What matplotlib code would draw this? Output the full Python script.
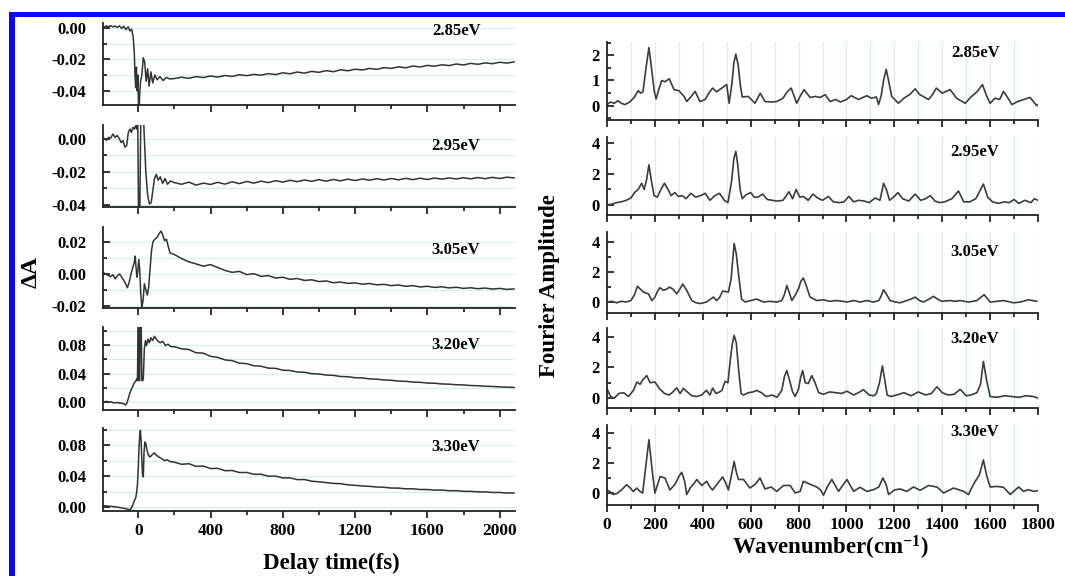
import matplotlib.pyplot as plt
from matplotlib.ticker import MultipleLocator
from matplotlib.patches import Rectangle

plt.rcParams['font.family'] = ['Liberation Serif', 'DejaVu Serif']
plt.rcParams['font.weight'] = 'bold'
plt.rcParams['mathtext.fontset'] = 'custom'
plt.rcParams['mathtext.rm'] = 'Liberation Serif:bold'
plt.rcParams['mathtext.it'] = 'Liberation Serif:bold'
plt.rcParams['mathtext.bf'] = 'Liberation Serif:bold'

energies = ["2.85eV", "2.95eV", "3.05eV", "3.20eV", "3.30eV"]

# ---- transient absorption traces (delay in fs, dA) ----
t_late = [200, 240, 280, 320, 360, 400, 440, 480, 520, 560,
          600, 640, 680, 720, 760, 800, 840, 880, 920, 960,
          1000, 1040, 1080, 1120, 1160, 1200, 1240, 1280, 1320, 1360,
          1400, 1440, 1480, 1520, 1560, 1600, 1640, 1680, 1720, 1760,
          1800, 1840, 1880, 1920, 1960, 2000, 2040, 2080]

t285 = [-200, -188, -176, -164, -152, -140, -128, -116, -104, -92,
        -80, -68, -56, -46, -36, -28, -22, -18, -14, -10,
        -6, -2, 3, 8, 13, 20, 28, 36, 44, 52,
        60, 70, 80, 92, 105, 120, 138, 155, 175]
a285 = [0.0010, 0.0004, 0.0012, 0.0006, 0.0013, 0.0005, 0.0011, 0.0002, 0.0012, -0.0005,
        0.0010, -0.0012, 0.0006, -0.0020, -0.0010, -0.0060, -0.0150, -0.0300, -0.0380, -0.0250,
        -0.0400, -0.0300, -0.0600, -0.0420, -0.0340, -0.0300, -0.0190, -0.0220, -0.0340, -0.0260,
        -0.0370, -0.0280, -0.0350, -0.0300, -0.0330, -0.0310, -0.0335, -0.0315, -0.0325]
a285_late = [-0.0322, -0.0314, -0.0321, -0.0310, -0.0316, -0.0306, -0.0313, -0.0303, -0.0309, -0.0298,
             -0.0304, -0.0296, -0.0301, -0.0291, -0.0297, -0.0286, -0.0292, -0.0281, -0.0288, -0.0277,
             -0.0283, -0.0272, -0.0279, -0.0267, -0.0273, -0.0263, -0.0268, -0.0258, -0.0264, -0.0253,
             -0.0258, -0.0248, -0.0254, -0.0243, -0.0249, -0.0239, -0.0244, -0.0235, -0.0240, -0.0230,
             -0.0236, -0.0226, -0.0232, -0.0223, -0.0228, -0.0219, -0.0224, -0.0217]

t295 = [-200, -188, -176, -164, -152, -140, -128, -116, -104, -94,
        -84, -74, -64, -55, -46, -38, -30, -22, -15, -8,
        -4, 2, 8, 16, 24, 32, 42, 52, 62, 72,
        80, 90, 100, 110, 122, 135, 148, 162, 178]
a295 = [0.0000, 0.0004, -0.0008, 0.0010, 0.0006, 0.0030, 0.0010, 0.0022, 0.0000, -0.0022,
        -0.0010, -0.0050, -0.0040, 0.0040, 0.0060, 0.0040, 0.0070, 0.0060, 0.0080, 0.0060,
        0.0300, -0.0500, -0.0500, 0.0300, 0.0300, 0.0050, -0.0200, -0.0340, -0.0395, -0.0385,
        -0.0320, -0.0240, -0.0215, -0.0250, -0.0230, -0.0270, -0.0240, -0.0275, -0.0255]
a295_late = [-0.0265, -0.0275, -0.0262, -0.0280, -0.0268, -0.0276, -0.0263, -0.0274, -0.0260, -0.0271,
             -0.0258, -0.0268, -0.0256, -0.0265, -0.0253, -0.0262, -0.0251, -0.0259, -0.0249, -0.0257,
             -0.0247, -0.0256, -0.0246, -0.0254, -0.0244, -0.0252, -0.0243, -0.0250, -0.0241, -0.0249,
             -0.0240, -0.0248, -0.0239, -0.0247, -0.0238, -0.0246, -0.0237, -0.0244, -0.0236, -0.0243,
             -0.0235, -0.0242, -0.0234, -0.0241, -0.0233, -0.0240, -0.0232, -0.0236]

t305 = [-200, -188, -176, -164, -152, -140, -128, -116, -104, -92,
        -80, -70, -60, -50, -40, -30, -22, -17, -12, -7,
        -2, 3, 8, 14, 20, 27, 34, 42, 50, 58,
        66, 74, 82, 92, 104, 116, 126, 136, 146,
        156, 166, 176, 188]
a305 = [0.0000, 0.0006, -0.0004, -0.0010, -0.0016, -0.0004, -0.0030, -0.0012, 0.0000, -0.0018,
        -0.0040, -0.0060, -0.0085, -0.0050, 0.0000, 0.0040, 0.0070, 0.0110, 0.0040, -0.0020,
        0.0020, 0.0090, 0.0030, -0.0120, -0.0210, -0.0160, -0.0060, -0.0100, -0.0130, -0.0080,
        0.0040, 0.0150, 0.0200, 0.0215, 0.0225, 0.0250, 0.0265, 0.0240, 0.0205,
        0.0215, 0.0170, 0.0130, 0.0125]
a305_late = [0.0120, 0.0095, 0.0075, 0.0062, 0.0048, 0.0058, 0.0040, 0.0022, 0.0010, 0.0016,
             -0.0004, 0.0002, -0.0015, -0.0010, -0.0025, -0.0020, -0.0033, -0.0028, -0.0040, -0.0036,
             -0.0047, -0.0043, -0.0054, -0.0050, -0.0058, -0.0055, -0.0063, -0.0059, -0.0067, -0.0064,
             -0.0072, -0.0068, -0.0076, -0.0072, -0.0080, -0.0076, -0.0083, -0.0079, -0.0086, -0.0082,
             -0.0089, -0.0085, -0.0091, -0.0087, -0.0093, -0.0089, -0.0095, -0.0092]

t320 = [-200, -188, -176, -164, -152, -140, -128, -116, -104, -92,
        -80, -70, -62, -54, -46, -38, -30, -22, -14, -8,
        -4, -1, 2, 5, 8, 12, 16, 20, 24, 28,
        34, 40, 46, 54, 62, 70, 80, 90, 100,
        110, 122, 136, 150, 165, 180]
a320 = [0.0005, 0.0000, 0.0012, -0.0005, 0.0004, -0.0008, -0.0010, -0.0004, -0.0015, -0.0012,
        -0.0025, -0.0040, -0.0010, 0.0060, 0.0130, 0.0180, 0.0220, 0.0270, 0.0290, 0.0330,
        0.0300, 0.1200, 0.1200, 0.0300, 0.0300, 0.1200, 0.1200, 0.0300, 0.0300, 0.0320,
        0.0750, 0.0860, 0.0790, 0.0880, 0.0830, 0.0900, 0.0860, 0.0920, 0.0880,
        0.0850, 0.0830, 0.0850, 0.0790, 0.0810, 0.0775]
a320_late = [0.0775, 0.0745, 0.0735, 0.0690, 0.0685, 0.0640, 0.0625, 0.0590, 0.0580, 0.0545,
             0.0538, 0.0508, 0.0502, 0.0475, 0.0472, 0.0446, 0.0442, 0.0421, 0.0417, 0.0398,
             0.0394, 0.0378, 0.0374, 0.0358, 0.0355, 0.0341, 0.0338, 0.0325, 0.0321, 0.0309,
             0.0306, 0.0294, 0.0291, 0.0280, 0.0277, 0.0267, 0.0264, 0.0254, 0.0251, 0.0243,
             0.0240, 0.0232, 0.0229, 0.0222, 0.0219, 0.0212, 0.0209, 0.0205]

t330 = [-200, -188, -176, -164, -152, -140, -128, -116, -104, -92,
        -80, -68, -56, -46, -38, -30, -22, -14, -8, -4,
        0, 4, 8, 12, 16, 20, 24, 28, 32, 37,
        42, 48, 56, 65, 75, 88, 100, 115, 130,
        145, 160, 178]
a330 = [0.0022, 0.0018, 0.0015, 0.0012, 0.0010, 0.0006, 0.0004, 0.0000, -0.0005, -0.0010,
        -0.0015, -0.0020, -0.0030, -0.0035, -0.0010, 0.0030, 0.0080, 0.0120, 0.0200, 0.0300,
        0.0500, 0.0750, 0.0920, 0.0990, 0.0850, 0.0600, 0.0420, 0.0390, 0.0700, 0.0840,
        0.0820, 0.0740, 0.0670, 0.0645, 0.0670, 0.0700, 0.0670, 0.0645, 0.0625,
        0.0600, 0.0610, 0.0585]
a330_late = [0.0580, 0.0552, 0.0560, 0.0525, 0.0530, 0.0497, 0.0500, 0.0470, 0.0472, 0.0446,
             0.0447, 0.0423, 0.0424, 0.0398, 0.0400, 0.0376, 0.0377, 0.0354, 0.0356, 0.0334,
             0.0326, 0.0316, 0.0306, 0.0302, 0.0287, 0.0281, 0.0272, 0.0268, 0.0259, 0.0256,
             0.0246, 0.0245, 0.0236, 0.0236, 0.0227, 0.0227, 0.0219, 0.0220, 0.0211, 0.0212,
             0.0204, 0.0203, 0.0197, 0.0196, 0.0189, 0.0189, 0.0181, 0.0183]

# ---- Fourier amplitude spectra (wavenumber in cm-1) ----
wn285 = [0, 15, 30, 45, 60, 75, 95, 115, 130, 140,
         150, 163, 175, 187, 197, 205, 215, 228, 242, 260,
         270, 280, 300, 322, 333, 350, 368, 388, 410, 425,
         441, 458, 479, 500, 510, 522, 530, 538, 548, 557,
         565, 590, 618, 640, 660, 690, 709, 735, 752, 769,
         783, 792, 808, 823, 848, 870, 890, 911, 932, 955,
         975, 1000, 1020, 1050, 1085, 1105, 1125, 1134, 1145, 1155,
         1166, 1178, 1189, 1217, 1240, 1265, 1287, 1305, 1343, 1360,
         1375, 1400, 1433, 1460, 1496, 1520, 1545, 1568, 1585, 1600,
         1620, 1640, 1656, 1675, 1691, 1715, 1740, 1767, 1795, 1800]
fa285 = [0.05, 0.15, 0.10, 0.20, 0.10, 0.05, 0.15, 0.35, 0.60, 0.50,
         0.55, 1.50, 2.30, 1.40, 0.60, 0.27, 0.60, 1.00, 0.95, 1.07,
         0.85, 0.64, 0.60, 0.37, 0.17, 0.35, 0.57, 0.17, 0.25, 0.50,
         0.70, 0.55, 0.70, 0.84, 0.10, 0.90, 1.70, 2.04, 1.60, 0.80,
         0.35, 0.37, 0.10, 0.50, 0.17, 0.15, 0.17, 0.30, 0.55, 0.70,
         0.35, 0.10, 0.40, 0.64, 0.33, 0.37, 0.33, 0.44, 0.17, 0.25,
         0.15, 0.25, 0.40, 0.25, 0.40, 0.30, 0.35, 0.05, 0.40, 1.00,
         1.44, 0.90, 0.37, 0.10, 0.30, 0.45, 0.67, 0.45, 0.25, 0.45,
         0.70, 0.50, 0.64, 0.30, 0.10, 0.35, 0.55, 0.84, 0.40, 0.10,
         0.30, 0.25, 0.57, 0.30, 0.05, 0.17, 0.25, 0.33, 0.00, 0.05]

wn295 = [0, 20, 40, 60, 80, 100, 115, 130, 145, 155,
         165, 175, 186, 197, 210, 225, 240, 255, 268, 283,
         298, 315, 330, 350, 370, 390, 410, 430, 450, 470,
         490, 505, 520, 530, 538, 546, 556, 565, 580, 600,
         615, 630, 650, 670, 690, 710, 735, 760, 775, 790,
         805, 820, 840, 860, 880, 900, 925, 945, 970, 990,
         1010, 1030, 1050, 1075, 1095, 1120, 1140, 1155, 1167, 1180,
         1200, 1215, 1235, 1260, 1287, 1310, 1330, 1350, 1370, 1390,
         1410, 1440, 1468, 1490, 1515, 1540, 1557, 1572, 1590, 1610,
         1635, 1660, 1680, 1700, 1720, 1745, 1770, 1785, 1800]
fa295 = [0.00, 0.05, 0.15, 0.20, 0.30, 0.45, 0.80, 1.00, 1.40, 1.00,
         1.60, 2.60, 1.50, 0.60, 0.50, 1.00, 1.40, 1.00, 0.60, 0.80,
         0.55, 0.60, 0.40, 0.75, 0.50, 0.60, 0.75, 0.30, 0.60, 0.75,
         0.30, 0.15, 1.50, 3.00, 3.46, 2.60, 1.00, 0.40, 0.65, 0.80,
         0.50, 0.50, 0.70, 0.35, 0.30, 0.25, 0.30, 0.85, 0.40, 1.00,
         0.50, 0.55, 0.30, 0.70, 0.45, 0.30, 0.55, 0.20, 0.15, 0.20,
         0.55, 0.20, 0.30, 0.25, 0.15, 0.45, 0.30, 1.40, 1.00, 0.30,
         0.55, 0.80, 0.40, 0.25, 0.70, 0.30, 0.40, 0.60, 0.25, 0.15,
         0.20, 0.40, 0.90, 0.20, 0.20, 0.40, 0.90, 1.35, 0.50, 0.20,
         0.10, 0.20, 0.15, 0.35, 0.10, 0.30, 0.15, 0.40, 0.30]

wn305 = [0, 20, 40, 60, 80, 100, 115, 127, 140, 152,
         163, 173, 187, 200, 212, 222, 235, 248, 261, 276,
         291, 304, 316, 333, 354, 372, 389, 416, 444, 458,
         470, 483, 495, 507, 518, 531, 540, 549, 562, 577,
         600, 625, 653, 680, 709, 730, 741, 751, 762, 772,
         786, 800, 810, 820, 830, 848, 876, 904, 930, 960,
         985, 1002, 1030, 1057, 1085, 1113, 1135, 1145, 1155, 1168,
         1182, 1205, 1224, 1252, 1270, 1287, 1305, 1322, 1345, 1364,
         1380, 1398, 1433, 1455, 1475, 1510, 1545, 1560, 1575, 1590,
         1600, 1630, 1656, 1698, 1726, 1760, 1795]
fa305 = [0.00, 0.05, -0.05, 0.05, 0.00, 0.10, 0.50, 1.05, 0.85, 0.67,
         0.60, 0.55, 0.10, 0.33, 0.75, 0.96, 0.78, 0.85, 1.00, 0.85,
         0.55, 0.85, 1.20, 0.78, 0.10, -0.05, -0.10, 0.00, 0.33, 0.10,
         0.30, 0.73, 0.70, 0.67, 1.50, 3.90, 3.20, 1.90, 0.20, 0.00,
         0.10, 0.20, 0.00, 0.05, 0.00, 0.10, 0.50, 1.10, 0.60, 0.10,
         0.45, 0.90, 1.40, 1.60, 1.20, 0.33, 0.10, 0.15, 0.05, 0.10,
         0.05, 0.00, 0.10, 0.00, 0.10, 0.00, 0.10, 0.40, 0.82, 0.50,
         0.10, 0.00, -0.05, 0.10, 0.20, 0.33, 0.10, 0.00, 0.20, 0.38,
         0.20, 0.05, 0.10, 0.05, 0.10, 0.00, 0.10, 0.30, 0.49, 0.20,
         0.00, 0.05, 0.10, -0.05, 0.00, 0.15, 0.05]

wn320 = [0, 15, 30, 50, 70, 90, 110, 125, 138, 150,
         166, 180, 200, 220, 240, 260, 275, 291, 305, 319,
         335, 355, 375, 395, 415, 430, 441, 455, 470, 480,
         493, 505, 515, 523, 531, 540, 550, 560, 570, 590,
         610, 625, 645, 665, 690, 710, 730, 741, 751, 762,
         775, 786, 800, 808, 817, 828, 841, 855, 869, 884,
         904, 930, 955, 980, 1002, 1030, 1050, 1071, 1095, 1115,
         1125, 1138, 1150, 1160, 1170, 1185, 1210, 1240, 1270, 1300,
         1330, 1355, 1378, 1400, 1425, 1450, 1475, 1500, 1520, 1545,
         1560, 1572, 1585, 1600, 1630, 1660, 1690, 1720, 1750, 1780,
         1800]
fa320 = [0.60, 0.10, 0.00, 0.30, 0.35, 0.10, 0.50, 1.05, 0.90, 1.20,
         1.47, 1.00, 1.05, 0.60, 0.30, 0.20, 0.40, 0.67, 0.30, 0.63,
         0.40, 0.15, 0.10, 0.20, 0.50, 0.20, 0.65, 0.30, 0.40, 0.50,
         1.10, 1.00, 2.50, 3.50, 4.10, 3.60, 1.80, 0.30, 0.20, 0.35,
         0.40, 0.50, 0.35, 0.10, 0.20, 0.05, 0.50, 1.40, 1.80, 1.20,
         0.40, 0.10, 0.60, 1.30, 1.80, 1.00, 0.95, 1.47, 1.00, 0.35,
         0.25, 0.40, 0.35, 0.30, 0.45, 0.20, 0.35, 0.55, 0.20, 0.15,
         0.30, 1.00, 2.10, 1.20, 0.20, 0.10, 0.20, 0.35, 0.15, 0.40,
         0.20, 0.30, 0.74, 0.35, 0.20, 0.25, 0.57, 0.15, 0.20, 0.35,
         0.90, 2.40, 1.20, 0.10, 0.05, 0.15, 0.10, 0.05, 0.15, 0.10,
         0.00]

wn330 = [0, 12, 25, 40, 60, 82, 96, 110, 124, 138,
         149, 160, 175, 188, 200, 212, 222, 242, 263, 285,
         300, 312, 324, 333, 347, 362, 375, 396, 416, 430,
         441, 460, 483, 495, 507, 520, 531, 540, 549, 570,
         597, 620, 639, 660, 685, 709, 737, 765, 786, 807,
         820, 845, 876, 892, 904, 920, 939, 967, 1002, 1030,
         1057, 1085, 1113, 1135, 1152, 1165, 1176, 1200, 1224, 1252,
         1280, 1308, 1343, 1378, 1406, 1447, 1489, 1510, 1525, 1538,
         1555, 1572, 1585, 1600, 1628, 1656, 1684, 1719, 1740, 1760,
         1780, 1800]
fa330 = [0.20, 0.10, -0.10, -0.05, 0.20, 0.55, 0.35, 0.10, 0.33, 0.10,
         0.00, 1.50, 3.55, 1.60, 0.00, 0.60, 1.10, 1.00, 0.20, 0.60,
         1.10, 1.38, 0.80, -0.10, 0.33, 0.60, 0.90, 0.50, 0.78, 0.40,
         0.20, 0.60, 1.07, 0.70, 0.20, 1.20, 2.10, 1.40, 0.90, 0.90,
         0.33, 0.60, 1.00, 0.27, 0.40, 0.11, 0.50, 0.50, 0.00, 0.11,
         0.78, 0.60, 0.40, 0.20, -0.15, 0.40, 0.90, 0.11, 0.90, 0.11,
         0.38, 0.11, 0.22, 0.40, 1.00, 0.60, -0.10, 0.20, 0.27, 0.11,
         0.40, 0.18, 0.50, 0.40, 0.00, 0.33, 0.11, -0.10, 0.40, 0.78,
         1.20, 2.20, 1.20, 0.40, 0.44, 0.38, -0.10, 0.40, 0.11, 0.22,
         0.11, 0.15]

traces = [(t285 + t_late, a285 + a285_late),
          (t295 + t_late, a295 + a295_late),
          (t305 + t_late, a305 + a305_late),
          (t320 + t_late, a320 + a320_late),
          (t330 + t_late, a330 + a330_late)]
spectra = [(wn285, fa285), (wn295, fa295), (wn305, fa305), (wn320, fa320), (wn330, fa330)]

# axis ranges and tick steps for each row
trace_ylims = [(-0.049, 0.003), (-0.0413, 0.0085), (-0.021, 0.029), (-0.011, 0.105), (-0.005, 0.102)]
trace_ysteps = [(0.02, 0.01), (0.02, 0.01), (0.02, 0.01), (0.04, 0.02), (0.04, 0.02)]
spec_ylims = [(-0.56, 2.52), (-0.65, 4.39), (-0.73, 4.67), (-0.65, 4.58), (-0.8, 4.53)]
spec_ysteps = [(1, 0.5), (2, 1), (2, 1), (2, 1), (2, 1)]

# panel boxes in pixels: (top, bottom)
W, H = 1065, 576
left_rows = [(23, 105), (125, 207), (227, 308), (327, 410), (428, 511)]
right_rows = [(42, 120), (137, 215), (232, 313), (328, 408), (425, 505)]
left_x = (103, 515)
right_x = (607, 1038)
left_label_y = [0.90, 0.74, 0.72, 0.78, 0.77]
right_label_y = [0.86, 0.81, 0.75, 0.86, 0.91]

LINE = '#333333'
GRID = '#d8eeea'


def add_panel(fig, xr, row):
    x0, x1 = xr
    top, bot = row
    return fig.add_axes([x0 / W, 1 - bot / H, (x1 - x0) / W, (bot - top) / H])


def style(ax, ypad):
    for side in ('top', 'right'):
        ax.spines[side].set_visible(False)
    for side in ('left', 'bottom'):
        ax.spines[side].set_linewidth(1.3)
        ax.spines[side].set_color('#222222')
    ax.tick_params(axis='y', which='both', direction='in', width=1.1, labelsize=12, pad=ypad)
    ax.tick_params(axis='x', which='both', direction='out', width=1.1, labelsize=12.5)
    ax.tick_params(which='major', length=5)
    ax.tick_params(which='minor', length=3)


fig = plt.figure(figsize=(W / 100, H / 100), dpi=100)

for i in range(5):
    # kinetics
    ax = add_panel(fig, left_x, left_rows[i])
    t, a = traces[i]
    ax.plot(t, a, color=LINE, lw=1.1)
    ax.set_xlim(-195, 2085)
    ax.set_ylim(*trace_ylims[i])
    ax.xaxis.set_major_locator(MultipleLocator(400))
    ax.xaxis.set_minor_locator(MultipleLocator(200))
    ax.yaxis.set_major_locator(MultipleLocator(trace_ysteps[i][0]))
    ax.yaxis.set_minor_locator(MultipleLocator(trace_ysteps[i][1]))
    ax.yaxis.set_major_formatter(lambda v, p: f"{v:.2f}".replace("-0.00", "0.00"))
    ax.grid(True, which='both', axis='y', color=GRID, lw=0.8)
    ax.set_axisbelow(True)
    style(ax, 12)
    if i < 4:
        ax.tick_params(axis='x', labelbottom=False)
    ax.text(0.857, left_label_y[i], energies[i], transform=ax.transAxes,
            ha='center', va='center', fontsize=12, fontweight='bold')

    # Fourier spectra
    ax2 = add_panel(fig, right_x, right_rows[i])
    wn, fa = spectra[i]
    ax2.plot(wn, fa, color='#3c3c3c', lw=1.2)
    ax2.set_xlim(0, 1800)
    ax2.set_ylim(*spec_ylims[i])
    ax2.xaxis.set_major_locator(MultipleLocator(200))
    ax2.xaxis.set_minor_locator(MultipleLocator(100))
    ax2.yaxis.set_major_locator(MultipleLocator(spec_ysteps[i][0]))
    ax2.yaxis.set_minor_locator(MultipleLocator(spec_ysteps[i][1]))
    ax2.grid(True, which='both', axis='x', color=GRID, lw=0.8)
    ax2.set_axisbelow(True)
    style(ax2, 5)
    if i < 4:
        ax2.tick_params(axis='x', labelbottom=False)
    ax2.text(0.854, right_label_y[i], energies[i], transform=ax2.transAxes,
             ha='center', va='center', fontsize=12, fontweight='bold')

fig.text(331 / W, 1 - 563 / H, "Delay time(fs)", ha='center', va='center',
         fontsize=16.5, fontweight='bold')
fig.text(31 / W, 1 - 272 / H, "ΔA", ha='center', va='center', rotation=90,
         fontsize=17, fontweight='bold')
fig.text(830 / W, 1 - 548 / H, "Wavenumber(cm$^{-1}$)", ha='center', va='center',
         fontsize=16.5, fontweight='bold')
fig.text(549 / W, 1 - 286 / H, "Fourier Amplitude", ha='center', va='center',
         rotation=90, fontsize=16.5, fontweight='bold')

# blue frame along the top and left edges
frame = '#0a0af2'
fig.add_artist(Rectangle((9 / W, 1 - 17 / H), 1 - 9 / W, 5 / H,
                         transform=fig.transFigure, color=frame, lw=0))
fig.add_artist(Rectangle((9 / W, 0), 6 / W, 1 - 12 / H,
                         transform=fig.transFigure, color=frame, lw=0))

fig.savefig("out.png", dpi=100)
